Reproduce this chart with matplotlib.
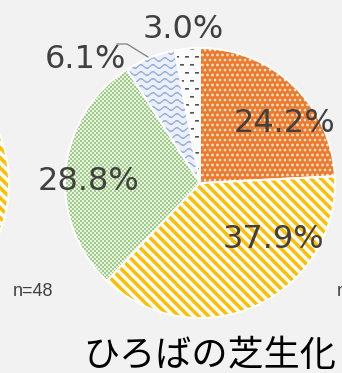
import numpy as np
import matplotlib.pyplot as plt
from matplotlib.patches import Wedge

plt.rcParams['font.family'] = ['Noto Sans CJK JP', 'DejaVu Sans']

W, H = 342, 373

# 回答の割合（%）、時計回りに12時から
shares = [24.2, 37.9, 28.8, 6.1, 3.0]
title = 'ひろばの芝生化'
n_left = 'n=48'
n_right = 'n'

# 各スライスの模様
patterns = ['dots', 'stripes', 'checks', 'waves', 'dashes']

S = 3
yy, xx = (np.mgrid[0:H * S, 0:W * S] + 0.5) / S


def texture(kind):
    if kind == 'dots':
        p = 5.0
        j = np.round(yy / p)
        off = (j % 2) * p / 2
        dx = ((xx - off + p / 2) % p) - p / 2
        dy = yy - j * p
        m = (dx ** 2 + dy ** 2) < 1.4 ** 2
        fg, bg = (255, 225, 195), (236, 122, 45)
    elif kind == 'stripes':
        m = ((xx - yy) % 10.0) < 4.8
        fg, bg = (255, 190, 0), (255, 255, 255)
    elif kind == 'checks':
        c = 2.0
        m = ((np.floor(xx / c) + np.floor(yy / c)) % 2) == 0
        fg, bg = (160, 202, 138), (232, 243, 224)
    elif kind == 'waves':
        sp = 7.0
        d = np.abs(((yy - 1.7 * np.sin(2 * np.pi * xx / 12.0)) % sp) - sp / 2)
        m = d < 0.85
        fg, bg = (150, 172, 218), (234, 239, 250)
    else:
        j = np.floor(yy / 8.0)
        off = (j % 2) * 5.0
        m = (((xx - off) % 10.0) < 4.0) & ((yy % 8.0) < 1.6)
        fg, bg = (85, 85, 85), (252, 252, 252)
    fg = np.array(fg) / 255.0
    bg = np.array(bg) / 255.0
    m = m[..., None].astype(float)
    rgb = fg * m + bg * (1 - m)
    rgb = rgb.reshape(H, S, W, S, 3).mean(axis=(1, 3))
    return rgb


fig = plt.figure(figsize=(W / 100, H / 100), dpi=100, facecolor='#f2f2f2')
ax = fig.add_axes([0, 0, 1, 1])
ax.set_facecolor('#f2f2f2')

cx, cy, r = 200, H - 183, 135
wedges, _ = ax.pie(shares, startangle=90, counterclock=False,
                   center=(cx, cy), radius=r,
                   wedgeprops=dict(edgecolor='white', linewidth=1.4, zorder=3))

for w, kind in zip(wedges, patterns):
    w.set_facecolor('none')
    im = ax.imshow(texture(kind), extent=(0, W, 0, H), origin='upper',
                   interpolation='bilinear', zorder=2)
    im.set_clip_path(w)

# 左隣の円グラフ（端だけ見える）
left = Wedge((-126, cy), r, -40, 40, facecolor='none', edgecolor='white',
             linewidth=1.4, zorder=3)
ax.add_patch(left)
im = ax.imshow(texture('stripes'), extent=(0, W, 0, H), origin='upper',
               interpolation='bilinear', zorder=2)
im.set_clip_path(left)

# ラベル
label_pos = [(285, 123), (273, 240), (88, 182), (85, 59), (183, 29)]
for v, (px, py) in zip(shares, label_pos):
    ax.text(px, H - py, f'{v:.1f}%', fontsize=23, color='#404040',
            family='DejaVu Sans', ha='center', va='center', zorder=5)

ax.plot([117, 127, 148], [H - 44, H - 44, H - 57], color='#7f7f7f',
        lw=0.9, zorder=4)

for px, s in [(13, n_left), (337, n_right)]:
    ax.text(px, H - 291, s, fontsize=13, color='#404040',
            family=['Liberation Sans Narrow', 'Liberation Sans'],
            fontstretch='condensed', ha='left', va='center')

ax.text(210, H - 356, title, fontsize=26, color='black',
        ha='center', va='center')

ax.set_xlim(0, W)
ax.set_ylim(0, H)
ax.set_aspect('equal')
ax.axis('off')

fig.savefig('out.png', dpi=100, facecolor=fig.get_facecolor())
